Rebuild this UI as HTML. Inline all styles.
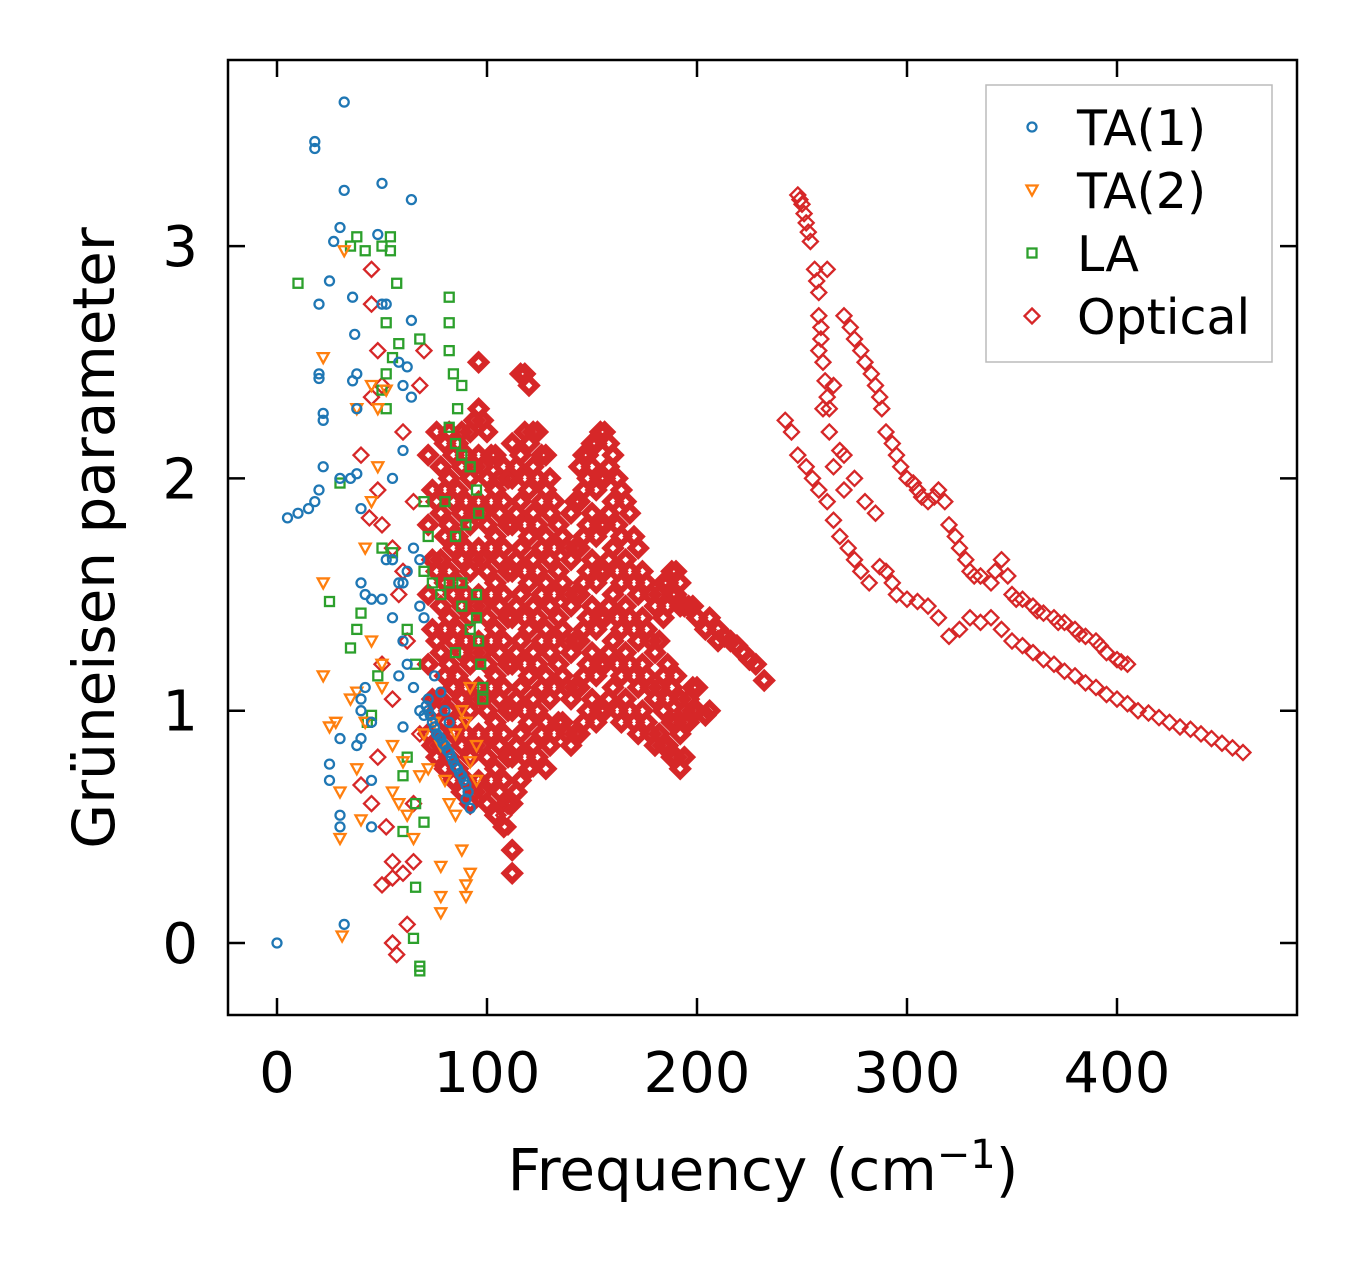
<!DOCTYPE html>
<html><head><meta charset="utf-8">
<style>
html,body{margin:0;padding:0;background:#fff;}
svg text{font-family:"DejaVu Sans","Liberation Sans",sans-serif;fill:#000;}
</style></head>
<body>
<svg id="chart" width="1357" height="1264" viewBox="0 0 1357 1264" xmlns="http://www.w3.org/2000/svg">
<rect x="0" y="0" width="1357" height="1264" fill="#fff"/>
<g id="marks"></g>
<rect x="228" y="60" width="1069" height="955" fill="none" stroke="#000" stroke-width="2.5"/>
<g id="ticks"></g>
<text x="763" y="1190" font-size="58" text-anchor="middle">Frequency (cm<tspan dy="-22" font-size="40">−1</tspan><tspan dy="22">)</tspan></text>
<text transform="translate(114,538) rotate(-90)" font-size="58" text-anchor="middle">Grüneisen parameter</text>
<g>
<rect x="986" y="85" width="286" height="277" fill="#fff" fill-opacity="0.85" stroke="#bbb" stroke-width="1.5"/>
<g id="legend-items"></g>
</g>
</svg>
<script>
const xTicks=[0,100,200,300,400];
const yTicks=[0,1,2,3];
const seriesNames=["TA(1)","TA(2)","LA","Optical"];
const seriesColors=["#1f77b4","#ff7f0e","#2ca02c","#d62728"];
const ta1=[[0,0],[5,1.83],[10,1.85],[15,1.87],[18,1.9],[20,1.95],[22,2.05],[20,2.43],[20,2.45],[22,2.25],[22,2.28],[20,2.75],[18,3.42],[18,3.45],[25,2.85],[27,3.02],[30,3.08],[32,3.24],[32,3.62],[30,2.0],[35,2.0],[38,2.02],[38,2.3],[38,2.45],[36,2.42],[37,2.62],[36,2.78],[50,3.27],[48,3.05],[50,2.75],[52,2.75],[64,3.2],[64,2.68],[58,2.5],[62,2.48],[60,2.4],[64,2.35],[55,2.0],[60,2.12],[40,1.87],[40,1.55],[42,1.5],[45,1.48],[50,1.48],[52,1.65],[55,1.65],[58,1.55],[60,1.55],[62,1.6],[65,1.7],[68,1.65],[40,1.05],[40,1.0],[42,1.1],[45,0.95],[40,0.88],[38,0.85],[30,0.88],[25,0.77],[25,0.7],[30,0.55],[30,0.5],[45,0.7],[45,0.5],[32,0.08],[60,1.3],[62,1.2],[65,1.1],[68,1.0],[70,0.98],[72,1.05],[74,0.95],[76,0.9],[78,0.88],[80,0.85],[82,0.82],[84,0.78],[86,0.75],[88,0.72],[90,0.68],[90,0.62],[92,0.58],[75,1.15],[78,1.08],[80,1.0],[82,0.95],[72,1.0],[70,1.4],[68,1.45],[60,0.93],[58,1.15],[55,1.4],[71,1.02],[73,0.98],[75,0.93],[77,0.89],[79,0.86],[81,0.83],[83,0.8],[85,0.76],[87,0.73],[89,0.7],[91,0.65]];
const ta2=[[32,2.98],[22,2.52],[38,2.3],[45,2.4],[48,2.05],[22,1.55],[22,1.15],[25,0.93],[28,0.95],[30,0.65],[35,1.05],[38,0.75],[40,0.53],[42,0.95],[45,1.3],[50,1.1],[55,0.85],[55,0.65],[58,0.6],[60,0.78],[62,0.55],[65,0.45],[68,0.72],[70,0.9],[72,0.75],[75,0.95],[78,0.85],[80,0.7],[82,0.6],[85,0.55],[88,0.4],[90,0.25],[90,0.2],[92,0.3],[78,0.33],[78,0.2],[78,0.13],[85,0.9],[88,1.0],[90,0.95],[92,1.1],[95,0.85],[92,0.78],[95,0.7],[30,0.45],[31,0.03],[42,1.7],[45,1.9],[52,2.38],[48,2.3],[50,1.2],[38,1.08]];
const la=[[10,2.84],[25,1.47],[30,1.98],[35,3.0],[38,3.04],[42,2.98],[50,3.0],[54,3.04],[54,2.98],[57,2.84],[52,2.67],[58,2.58],[55,2.52],[52,2.45],[50,2.38],[52,2.3],[68,2.6],[82,2.78],[82,2.67],[82,2.55],[84,2.45],[88,2.4],[86,2.3],[82,2.22],[85,2.15],[88,2.1],[92,2.05],[95,1.95],[96,1.85],[90,1.8],[85,1.75],[80,1.9],[70,1.9],[72,1.75],[70,1.6],[74,1.55],[78,1.5],[82,1.55],[88,1.55],[95,1.5],[95,1.4],[96,1.3],[97,1.2],[98,1.1],[98,1.05],[92,1.35],[88,1.45],[35,1.27],[38,1.35],[40,1.42],[43,0.95],[45,0.98],[48,1.15],[50,1.7],[55,1.68],[60,0.72],[62,0.8],[66,0.6],[60,0.48],[70,0.52],[66,0.24],[65,0.02],[68,-0.1],[68,-0.12],[85,1.25],[62,1.35],[66,1.2]];
const opticalColumns=[[72,[0.9,1.2,1.5,1.8,2.1]],[76,[0.8,1.0,1.3,1.6,1.9,2.2]],[80,[0.75,0.95,1.15,1.35,1.55,1.75,1.95,2.15]],[84,[0.7,0.9,1.1,1.3,1.5,1.7,1.9,2.1]],[88,[0.65,0.85,1.05,1.25,1.45,1.65,1.85,2.05,2.2]],[92,[0.6,0.8,1.0,1.2,1.4,1.6,1.8,2.0,2.2]],[96,[0.7,0.9,1.1,1.3,1.5,1.7,1.9,2.1,2.3,2.5]],[100,[0.6,0.8,1.0,1.2,1.4,1.6,1.8,2.0,2.2]],[104,[0.55,0.75,0.95,1.15,1.35,1.55,1.75,1.95,2.1]],[108,[0.5,0.7,0.9,1.1,1.3,1.5,1.7,1.9,2.05]],[112,[0.3,0.4,0.6,0.8,1.0,1.2,1.4,1.6,1.8,2.0,2.15]],[116,[0.7,0.9,1.1,1.3,1.5,1.7,1.9,2.1,2.45]],[120,[0.75,0.95,1.15,1.35,1.55,1.75,1.95,2.15,2.4]],[124,[0.8,1.0,1.2,1.4,1.6,1.8,2.0,2.2]],[128,[0.75,0.95,1.15,1.35,1.55,1.75,1.95,2.1]],[132,[0.9,1.1,1.3,1.5,1.7,1.9]],[136,[0.95,1.15,1.35,1.55,1.75]],[140,[0.85,1.05,1.25,1.45,1.65,1.85]],[144,[0.9,1.1,1.3,1.5,1.7,1.9,2.05]],[148,[1.0,1.2,1.4,1.6,1.8,2.0,2.1]],[152,[0.95,1.15,1.35,1.55,1.75,1.95,2.15]],[156,[1.0,1.2,1.4,1.6,1.8,2.0,2.2]],[160,[1.1,1.3,1.5,1.7,1.9,2.1]],[164,[0.95,1.15,1.35,1.55,1.75,1.95]],[168,[1.0,1.2,1.4,1.6,1.85]],[172,[0.9,1.1,1.3,1.5,1.7]],[176,[0.95,1.15,1.35,1.55]],[180,[0.85,1.05,1.25,1.45]],[184,[0.85,1.0,1.15,1.4,1.55]],[188,[0.8,0.95,1.1,1.5,1.6]],[192,[0.75,0.9,1.05,1.45,1.55]],[196,[0.95,1.05,1.45]],[200,[1.0,1.1,1.4]],[204,[0.98,1.35]],[210,[1.35,1.3]],[216,[1.3]],[222,[1.25]],[228,[1.2]],[232,[1.13]]];
const opticalColumns2=[[74,[0.85,1.05,1.35,1.65,1.95]],[78,[0.85,1.05,1.25,1.45,1.65,1.85,2.05]],[82,[0.8,1.0,1.2,1.4,1.6,1.8,2.0,2.2]],[86,[0.75,0.95,1.15,1.35,1.55,1.75,1.95,2.15]],[90,[0.7,0.9,1.1,1.3,1.5,1.7,1.9,2.1]],[94,[0.65,0.85,1.05,1.25,1.45,1.65,1.85,2.05,2.25]],[98,[0.65,0.85,1.05,1.25,1.45,1.65,1.85,2.05,2.25]],[102,[0.7,0.9,1.1,1.3,1.5,1.7,1.9,2.1]],[106,[0.65,0.85,1.05,1.25,1.45,1.65,1.85,2.0]],[110,[0.6,0.8,1.0,1.2,1.4,1.6,1.8,2.0]],[114,[0.65,0.85,1.05,1.25,1.45,1.65,1.85,2.05]],[118,[0.8,1.0,1.2,1.4,1.6,1.8,2.0,2.2,2.45]],[122,[0.85,1.05,1.25,1.45,1.65,1.85,2.05,2.2]],[126,[0.9,1.1,1.3,1.5,1.7,1.9,2.1]],[130,[0.85,1.05,1.25,1.45,1.65,1.85,2.0]],[134,[0.95,1.2,1.4,1.6,1.8]],[138,[0.9,1.1,1.3,1.5,1.7]],[142,[0.9,1.1,1.3,1.5,1.7,1.9]],[146,[0.95,1.15,1.35,1.55,1.75,1.95,2.1]],[150,[1.05,1.25,1.45,1.65,1.85,2.05,2.15]],[154,[1.0,1.2,1.4,1.6,1.8,2.0,2.2]],[158,[1.05,1.25,1.45,1.65,1.85,2.05,2.15]],[162,[1.0,1.2,1.4,1.6,1.8,2.0]],[166,[1.05,1.25,1.45,1.65,1.9]],[170,[0.95,1.15,1.35,1.55,1.75]],[174,[1.0,1.2,1.4,1.6]],[178,[0.9,1.1,1.3,1.5]],[182,[0.9,1.1,1.3,1.5]],[186,[0.85,1.05,1.2,1.45,1.55]],[190,[0.8,0.95,1.15,1.5,1.6]],[194,[0.8,0.95,1.0,1.45]],[198,[1.0,1.1,1.45]],[206,[1.0,1.4]],[213,[1.32]],[219,[1.28]],[225,[1.22]]];
const opticalScatter=[[45,2.9],[45,2.75],[48,2.55],[45,2.35],[50,2.4],[40,2.1],[44,1.83],[48,1.95],[50,1.8],[55,1.7],[60,1.6],[50,1.2],[55,1.05],[40,0.68],[45,0.6],[52,0.5],[55,0.35],[50,0.25],[55,0.28],[60,0.3],[55,0.0],[57,-0.05],[62,0.08],[65,0.35],[65,0.6],[68,0.9],[70,2.55],[68,2.4],[60,2.2],[65,1.9],[58,1.5],[62,1.3],[48,0.8],[108,0.55],[108,0.6],[110,0.5],[122,0.75],[140,0.85],[165,0.95]];
const opticalHigh=[[248,3.22],[250,3.18],[252,3.1],[254,3.02],[256,2.9],[258,2.8],[258,2.7],[259,2.6],[260,2.5],[261,2.42],[262,2.35],[263,2.3],[265,2.4],[262,2.9],[258,2.55],[249,3.2],[251,3.14],[253,3.06],[257,2.85],[259,2.65],[270,2.7],[273,2.65],[275,2.6],[280,2.5],[283,2.45],[285,2.4],[288,2.3],[290,2.2],[293,2.15],[295,2.1],[300,2.0],[303,1.98],[305,1.95],[310,1.9],[315,1.95],[318,1.9],[320,1.8],[323,1.75],[325,1.7],[328,1.65],[330,1.6],[335,1.58],[340,1.55],[345,1.65],[348,1.58],[350,1.5],[355,1.48],[360,1.45],[365,1.42],[370,1.4],[375,1.38],[380,1.35],[385,1.32],[390,1.3],[395,1.25],[400,1.22],[405,1.2],[242,2.25],[245,2.2],[248,2.1],[252,2.05],[255,2.0],[258,1.95],[262,1.9],[265,1.82],[268,1.75],[272,1.7],[275,1.65],[278,1.6],[282,1.55],[287,1.62],[290,1.6],[293,1.55],[295,1.5],[300,1.48],[305,1.47],[310,1.45],[315,1.4],[320,1.32],[325,1.35],[330,1.4],[335,1.38],[340,1.4],[345,1.35],[350,1.3],[355,1.28],[360,1.25],[365,1.22],[370,1.2],[375,1.17],[380,1.15],[385,1.12],[390,1.1],[395,1.07],[400,1.05],[405,1.03],[410,1.0],[415,0.99],[420,0.97],[425,0.95],[430,0.93],[435,0.92],[440,0.9],[445,0.88],[450,0.86],[455,0.84],[460,0.82],[260,2.3],[263,2.2],[268,2.12],[270,2.1],[275,2.0],[280,1.9],[285,1.85],[265,2.05],[270,1.95],[278,2.55],[287,2.35],[297,2.05],[307,1.92],[313,1.92],[332,1.58],[342,1.6],[352,1.48],[362,1.43],[372,1.38],[382,1.33],[392,1.28],[402,1.21]];

const X0=277,XS=2.1,Y0=943,YS=232.3;
function sx(v){return X0+v*XS;}
function sy(v){return Y0-v*YS;}
const NS="http://www.w3.org/2000/svg";
const marks=document.getElementById('marks');
function mk(tag,attrs,parent){const e=document.createElementNS(NS,tag);for(const k in attrs)e.setAttribute(k,attrs[k]);parent.appendChild(e);return e;}
function marker(kind,cx,cy,color,parent,sw){
  let e;
  if(kind===0){e=mk('circle',{cx:cx,cy:cy,r:4.5},parent);}
  else if(kind===1){e=mk('polygon',{points:(cx-5.5)+','+(cy-4.5)+' '+(cx+5.5)+','+(cy-4.5)+' '+cx+','+(cy+5.5)},parent);}
  else if(kind===2){e=mk('rect',{x:cx-4.5,y:cy-4.5,width:9,height:9},parent);}
  else {e=mk('polygon',{points:cx+','+(cy-7.5)+' '+(cx+7.5)+','+cy+' '+cx+','+(cy+7.5)+' '+(cx-7.5)+','+cy},parent);}
  e.setAttribute('fill','none');e.setAttribute('stroke',color);e.setAttribute('stroke-width',sw||'2.3');
  return e;
}
function drawSeries(pts,kind,name,sw){
  const g=mk('g',{},marks);
  
  
  pts.forEach(p=>{const e=marker(kind,sx(p[0]),sy(p[1]),seriesColors[kind],g,sw);
    
    });
}
const opticalDense=[];
opticalColumns.forEach(c=>c[1].forEach(y=>opticalDense.push([c[0],y])));
opticalColumns2.forEach(c=>c[1].forEach(y=>opticalDense.push([c[0],y])));
const optical=[];
opticalScatter.forEach(p=>optical.push(p));
opticalHigh.forEach(p=>optical.push(p));
drawSeries(opticalDense,3,'optical-dense','6');
drawSeries(optical,3,'optical');
drawSeries(la,2,'la');
drawSeries(ta2,1,'ta2');
drawSeries(ta1,0,'ta1');

const tg=document.getElementById('ticks');
xTicks.forEach(v=>{const x=sx(v);
  let l=mk('line',{x1:x,y1:1015,x2:x,y2:998,stroke:'#000','stroke-width':2.5},tg);
  
  
  let l2=mk('line',{x1:x,y1:60,x2:x,y2:77,stroke:'#000','stroke-width':2.5},tg);
  
  
  let t=mk('text',{x:x,y:1092,'font-size':56,'text-anchor':'middle'},tg);t.textContent=v;
  
  
});
yTicks.forEach(v=>{const y=sy(v);
  let l=mk('line',{x1:228,y1:y,x2:245,y2:y,stroke:'#000','stroke-width':2.5},tg);
  
  
  let l2=mk('line',{x1:1297,y1:y,x2:1280,y2:y,stroke:'#000','stroke-width':2.5},tg);
  
  
  let t=mk('text',{x:198,y:y+20,'font-size':56,'text-anchor':'end'},tg);t.textContent=v;
  
  
});
const lg=document.getElementById('legend-items');
seriesNames.forEach((n,i)=>{const y=127+i*63;
  const g=mk('g',{},lg);
  
  
  marker(i,1032,y,seriesColors[i],g);
  const t=mk('text',{x:1077,y:y+18,'font-size':49},g);t.textContent=n;
});
</script>
</body></html>
